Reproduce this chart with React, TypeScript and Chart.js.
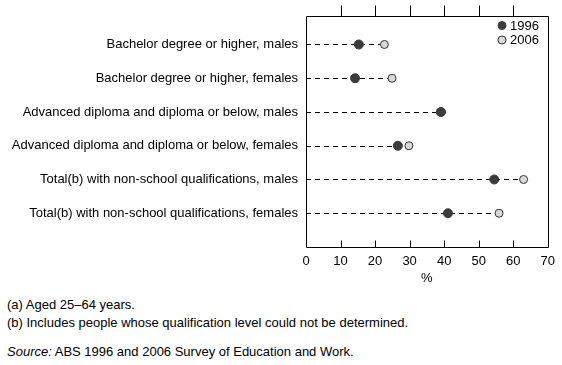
import React, { useEffect, useRef } from "react";
import { Chart, registerables } from "chart.js";

Chart.register(...registerables);

const categories = [
  "Bachelor degree or higher, males",
  "Bachelor degree or higher, females",
  "Advanced diploma and diploma or below, males",
  "Advanced diploma and diploma or below, females",
  "Total(b) with non-school qualifications, males",
  "Total(b) with non-school qualifications, females",
];
const values1996 = [15.3, 14.2, 39.1, 26.6, 54.5, 41.1];
const values2006 = [22.7, 24.9, 38.9, 29.8, 63.0, 55.9];
const seriesNames = ["1996", "2006"];
const xTicks = [0, 10, 20, 30, 40, 50, 60, 70];

const FONT = "'Liberation Sans', Arial, sans-serif";
const FS = 13;
const DARK = "#3b3b3b";
const LIGHT = "#d9d9d9";

const framePlugin = {
  id: "frame",
  beforeDatasetsDraw(chart: any) {
    const { ctx, scales } = chart;
    const xs = scales.x;
    const ys = scales.y;
    ctx.save();
    ctx.strokeStyle = "#000";
    ctx.lineWidth = 1;
    ctx.setLineDash([5, 4]);
    categories.forEach((_, i) => {
      const y = Math.round(ys.getPixelForValue(i + 1)) + 0.5;
      const maxV = Math.max(values1996[i], values2006[i]);
      ctx.beginPath();
      ctx.moveTo(xs.getPixelForValue(0), y);
      ctx.lineTo(xs.getPixelForValue(maxV), y);
      ctx.stroke();
    });
    ctx.restore();
  },
  afterDraw(chart: any) {
    const { ctx, chartArea: a, scales } = chart;
    const xs = scales.x;
    const ys = scales.y;
    ctx.save();
    ctx.strokeStyle = "#000";
    ctx.lineWidth = 1;
    ctx.setLineDash([]);
    const L = Math.round(a.left) + 0.5;
    const R = Math.round(a.right) + 0.5;
    const T = Math.round(a.top) + 0.5;
    const B = Math.round(a.bottom) + 0.5;
    ctx.beginPath();
    ctx.rect(L, T, R - L, B - T);
    ctx.stroke();
    xTicks.slice(1, -1).forEach((v) => {
      const x = Math.round(xs.getPixelForValue(v)) + 0.5;
      ctx.beginPath();
      ctx.moveTo(x, B);
      ctx.lineTo(x, B - 7);
      ctx.moveTo(x, T);
      ctx.lineTo(x, T - 11);
      ctx.stroke();
    });
    categories.forEach((_, i) => {
      const y = Math.round(ys.getPixelForValue(i + 1)) + 0.5;
      ctx.beginPath();
      ctx.moveTo(L, y);
      ctx.lineTo(L + 4, y);
      ctx.stroke();
    });
    // legend
    const lx = 502;
    const ly = [25.5, 40];
    ctx.font = `${FS}px ${FONT}`;
    ctx.textBaseline = "middle";
    ctx.textAlign = "left";
    seriesNames.forEach((name, i) => {
      ctx.beginPath();
      ctx.arc(lx, ly[i], 4, 0, Math.PI * 2);
      ctx.fillStyle = i === 0 ? DARK : LIGHT;
      ctx.fill();
      ctx.strokeStyle = i === 0 ? DARK : "#333";
      ctx.stroke();
      ctx.fillStyle = "#000";
      ctx.fillText(name, lx + 8, ly[i] + 0.5);
    });
    ctx.restore();
  },
};

export default function App() {
  const ref = useRef<HTMLCanvasElement | null>(null);
  useEffect(() => {
    if (!ref.current) return;
    Chart.defaults.font.family = FONT;
    Chart.defaults.font.size = FS;
    Chart.defaults.color = "#000";
    const chart = new Chart(ref.current, {
      type: "scatter",
      data: {
        datasets: [
          {
            label: seriesNames[0],
            data: values1996.map((v, i) => ({ x: v, y: i + 1 })),
            backgroundColor: DARK,
            borderColor: DARK,
            pointRadius: 4.5,
            pointBorderWidth: 1,
          },
          {
            label: seriesNames[1],
            data: values2006.map((v, i) => ({ x: v, y: i + 1 })),
            backgroundColor: LIGHT,
            borderColor: "#333",
            pointRadius: 4,
            pointBorderWidth: 1,
          },
        ],
      },
      options: {
        animation: false,
        responsive: false,
        devicePixelRatio: 1,
        layout: { padding: { top: 15, right: 12, left: 0, bottom: 0 } },
        plugins: { legend: { display: false }, tooltip: { enabled: false } },
        scales: {
          x: {
            type: "linear",
            min: 0,
            max: 70,
            afterBuildTicks: (s: any) => {
              s.ticks = xTicks.map((v) => ({ value: v }));
            },
            afterFit: (s: any) => {
              s.height = 43;
            },
            grid: { display: false, drawTicks: false },
            border: { display: false },
            ticks: { padding: 7, font: { size: FS, family: FONT }, color: "#000" },
            title: {
              display: true,
              text: "%",
              font: { size: FS, family: FONT },
              color: "#000",
              padding: { top: 0, bottom: 4 },
            },
          },
          y: {
            type: "linear",
            reverse: true,
            min: 0.15,
            max: 7,
            afterBuildTicks: (s: any) => {
              s.ticks = categories.map((_, i) => ({ value: i + 1 }));
            },
            afterFit: (s: any) => {
              s.width = 306;
            },
            grid: { display: false, drawTicks: false },
            border: { display: false },
            ticks: {
              padding: 8,
              autoSkip: false,
              font: { size: FS, family: FONT },
              color: "#000",
              callback: (v: any) => categories[Math.round(Number(v)) - 1] ?? "",
            },
          },
        },
      },
      plugins: [framePlugin],
    } as any);
    return () => chart.destroy();
  }, []);

  const note: React.CSSProperties = {
    position: "absolute",
    left: 7,
    fontFamily: FONT,
    fontSize: FS,
    lineHeight: "15px",
    whiteSpace: "nowrap",
    color: "#000",
  };

  return (
    <div
      style={{
        position: "fixed",
        left: 0,
        top: 0,
        width: 562,
        height: 365,
        background: "#fff",
        overflow: "hidden",
      }}
    >
      <canvas ref={ref} width={562} height={290} style={{ display: "block" }} />
      <div style={{ ...note, top: 297 }}>(a) Aged 25–64 years.</div>
      <div style={{ ...note, top: 315 }}>
        (b) Includes people whose qualification level could not be determined.
      </div>
      <div style={{ ...note, top: 344 }}>
        <i>Source:</i> ABS 1996 and 2006 Survey of Education and Work.
      </div>
    </div>
  );
}
